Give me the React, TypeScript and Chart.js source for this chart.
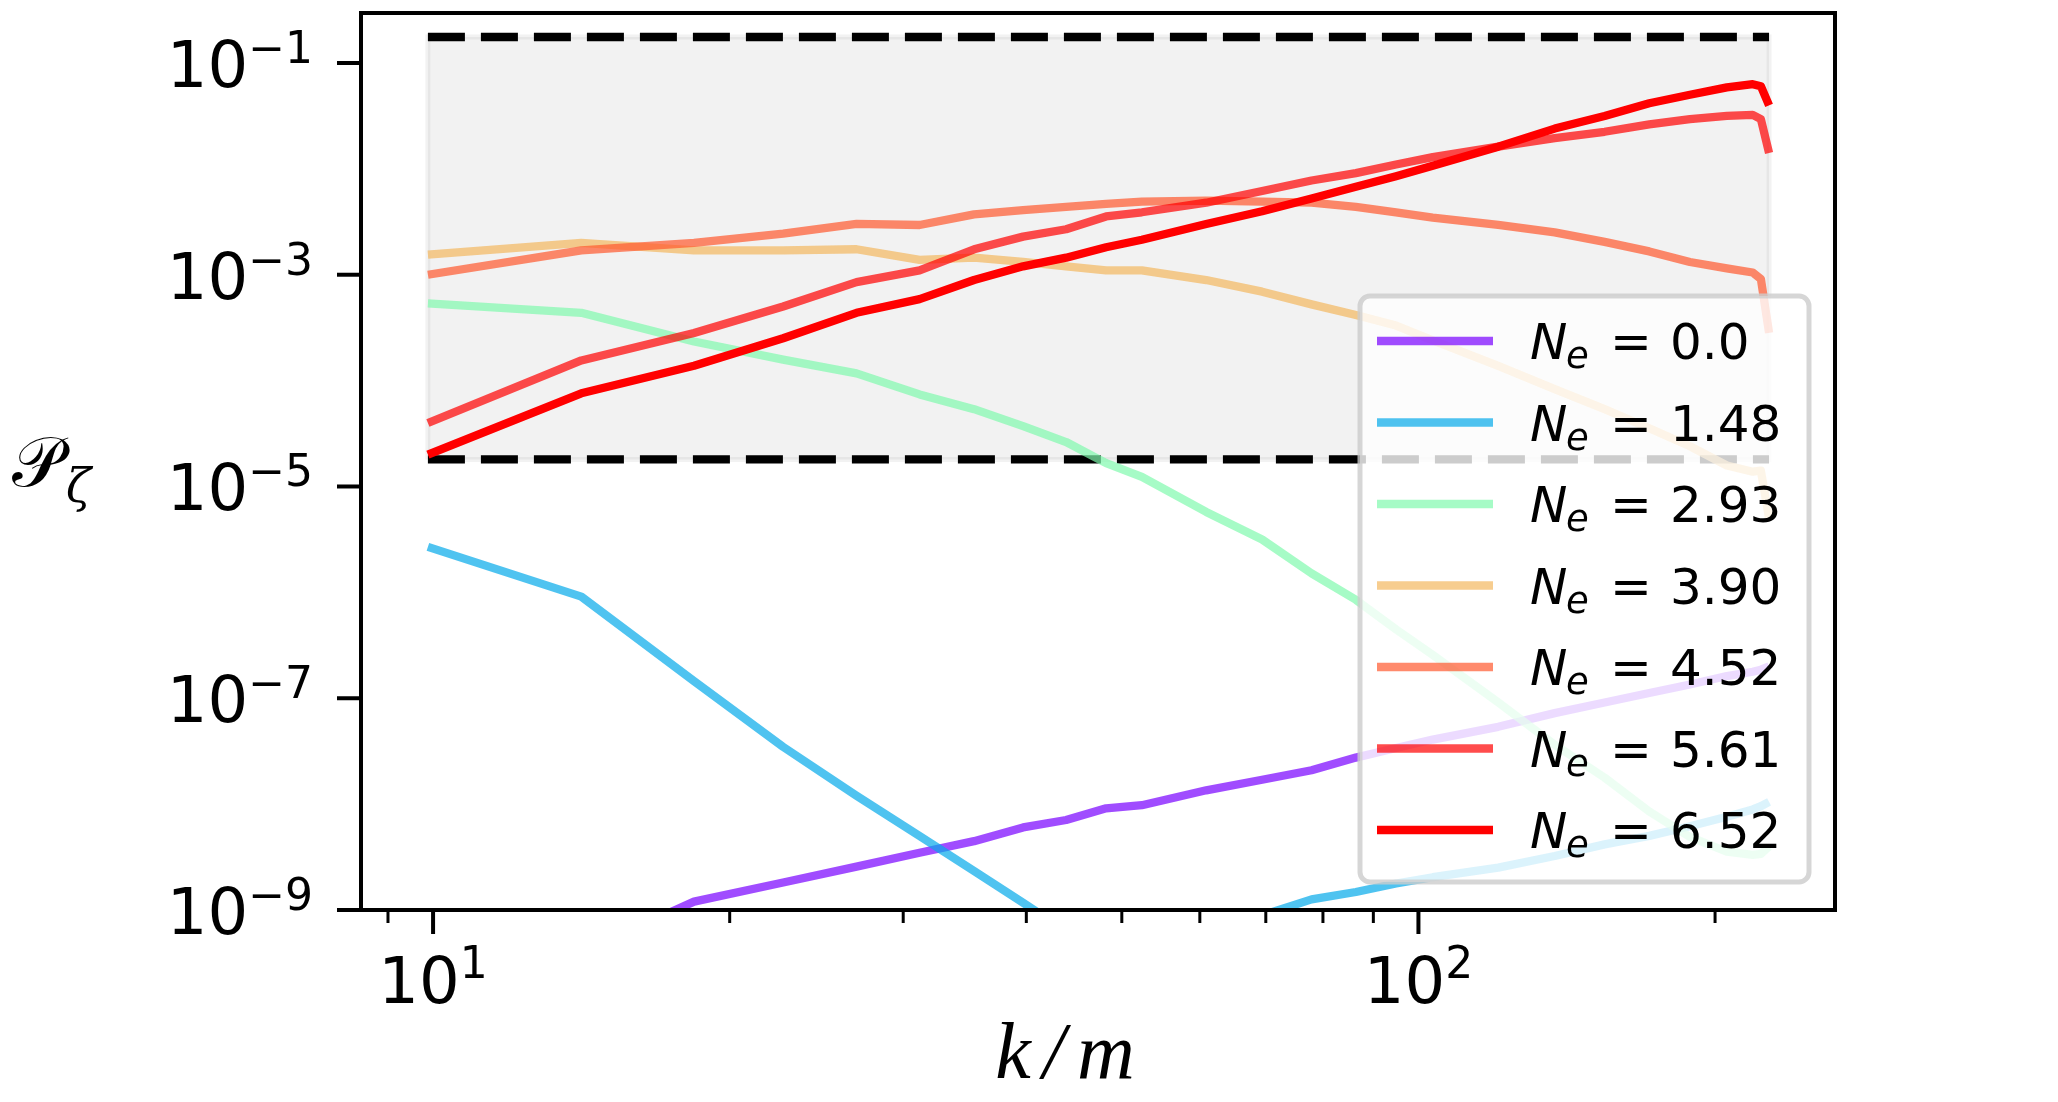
import { useEffect, useRef } from "react";
import { Chart, registerables } from "chart.js";

Chart.register(...registerables);

// k/m sample points (shared by all curves)
const kValues = [
  9.88, 14.14, 18.4, 22.66, 26.9, 31.17, 35.4, 39.7, 43.9, 48.2, 52.4, 60.9, 69.4,
  77.9, 86.4, 94.9, 103.4, 120.5, 137.5, 154.5, 171.5, 188.6, 205.6, 218.4, 222.6,
  226.9,
];

// P_zeta for each N_e
const pNe000 = [
  1.58e-10, 3.98e-10, 1.2e-9, 1.82e-9, 2.57e-9, 3.47e-9, 4.47e-9, 6.03e-9, 7.08e-9,
  9.12e-9, 9.77e-9, 1.35e-8, 1.7e-8, 2.09e-8, 2.75e-8, 3.39e-8, 4.07e-8, 5.37e-8,
  7.24e-8, 9.12e-8, 1.12e-7, 1.35e-7, 1.62e-7, 1.78e-7, 1.86e-7, 2.0e-7,
];
const pNe148 = [
  2.69e-6, 9.12e-7, 1.45e-7, 3.47e-8, 1.2e-8, 5.01e-9, 2.34e-9, 1.17e-9, 6.31e-10,
  3.98e-10, 3.16e-10, 3.98e-10, 8.91e-10, 1.26e-9, 1.48e-9, 1.78e-9, 2.04e-9, 2.51e-9,
  3.24e-9, 4.17e-9, 5.01e-9, 6.17e-9, 7.59e-9, 8.91e-9, 9.55e-9, 1.05e-8,
];
const pNe293 = [
  5.37e-4, 4.37e-4, 2.34e-4, 1.58e-4, 1.17e-4, 7.41e-5, 5.37e-5, 3.72e-5, 2.63e-5,
  1.66e-5, 1.23e-5, 5.75e-6, 3.16e-6, 1.51e-6, 8.51e-7, 4.47e-7, 2.57e-7, 9.12e-8,
  3.63e-8, 1.78e-8, 8.51e-9, 4.9e-9, 3.55e-9, 3.31e-9, 3.39e-9, 3.98e-9,
];
const pNe390 = [
  1.55e-3, 2.0e-3, 1.7e-3, 1.7e-3, 1.74e-3, 1.38e-3, 1.45e-3, 1.32e-3, 1.2e-3,
  1.1e-3, 1.1e-3, 8.91e-4, 6.92e-4, 5.25e-4, 4.17e-4, 3.31e-4, 2.4e-4, 1.38e-4,
  8.32e-5, 5.37e-5, 3.55e-5, 2.4e-5, 1.58e-5, 1.38e-5, 1.41e-5, 5.01e-6,
];
const pNe452 = [
  1.0e-3, 1.7e-3, 2.0e-3, 2.45e-3, 3.02e-3, 2.95e-3, 3.72e-3, 4.07e-3, 4.37e-3,
  4.68e-3, 4.9e-3, 5.01e-3, 4.9e-3, 4.79e-3, 4.37e-3, 3.89e-3, 3.47e-3, 2.95e-3,
  2.51e-3, 2.04e-3, 1.66e-3, 1.32e-3, 1.15e-3, 1.05e-3, 9.12e-4, 2.82e-4,
];
const pNe561 = [
  3.98e-5, 1.55e-4, 2.82e-4, 5.01e-4, 8.51e-4, 1.1e-3, 1.74e-3, 2.29e-3, 2.69e-3,
  3.55e-3, 3.89e-3, 4.79e-3, 6.17e-3, 7.76e-3, 9.12e-3, 1.1e-2, 1.29e-2, 1.62e-2,
  1.95e-2, 2.24e-2, 2.63e-2, 2.95e-2, 3.16e-2, 3.24e-2, 2.95e-2, 1.41e-2,
];
const pNe652 = [
  2.0e-5, 7.59e-5, 1.38e-4, 2.51e-4, 4.37e-4, 5.89e-4, 8.91e-4, 1.2e-3, 1.45e-3,
  1.82e-3, 2.14e-3, 3.02e-3, 3.98e-3, 5.25e-3, 6.76e-3, 8.51e-3, 1.07e-2, 1.62e-2,
  2.4e-2, 3.16e-2, 4.17e-2, 5.01e-2, 5.89e-2, 6.31e-2, 6.03e-2, 3.98e-2,
];

const neLabels = ["0.0", "1.48", "2.93", "3.90", "4.52", "5.61", "6.52"];
const series = [pNe000, pNe148, pNe293, pNe390, pNe452, pNe561, pNe652];
const lineColors = [
  "rgba(119,0,255,0.7)",
  "rgba(4,169,234,0.7)",
  "rgba(128,249,174,0.7)",
  "rgba(244,184,96,0.7)",
  "rgba(255,88,45,0.7)",
  "rgba(255,0,0,0.7)",
  "rgba(255,0,0,1)",
];

// shaded band with dashed bounds
const bandK = [9.88, 226.9];
const bandLow = 1.8e-5;
const bandHigh = 0.176;

// axes
const xMin = 8.45;
const xMax = 264.7;
const yMin = 1e-9;
const yMax = 0.2965;
const yTickValues = [1e-1, 1e-3, 1e-5, 1e-7, 1e-9];
const yTickExponents = ["\u22121", "\u22123", "\u22125", "\u22127", "\u22129"];
const xMajorTicks = [10, 100];
const xTickExponents = ["1", "2"];
const xMinorTicks = [9, 20, 30, 40, 50, 60, 70, 80, 90, 200];

const decor = {
  id: "decor",
  afterDatasetsDraw(chart: Chart) {
    const { ctx, chartArea: a } = chart;
    const lw = 449;
    const lh = 586;
    const lx = a.right - 26 - lw;
    const ly = a.bottom - 28 - lh;
    ctx.save();
    ctx.beginPath();
    ctx.roundRect(lx, ly, lw, lh, 10);
    ctx.fillStyle = "rgba(255,255,255,0.8)";
    ctx.fill();
    ctx.lineWidth = 5;
    ctx.strokeStyle = "rgba(204,204,204,0.8)";
    ctx.stroke();
    neLabels.forEach((lab, i) => {
      const y = ly + 45 + i * 81.5;
      ctx.beginPath();
      ctx.moveTo(lx + 17, y);
      ctx.lineTo(lx + 133, y);
      ctx.strokeStyle = lineColors[i];
      ctx.lineWidth = 8.3;
      ctx.lineCap = "butt";
      ctx.stroke();
      const tx = lx + 170;
      const base = y + 18;
      ctx.fillStyle = "#000";
      ctx.textAlign = "left";
      ctx.textBaseline = "alphabetic";
      ctx.font = "italic 50px 'DejaVu Sans'";
      ctx.fillText("N", tx, base);
      ctx.font = "italic 37px 'DejaVu Sans'";
      ctx.fillText("e", tx + 36, base + 9);
      ctx.font = "50px 'DejaVu Sans'";
      ctx.fillText("=", tx + 80, base);
      ctx.fillText(lab, tx + 140, base);
    });
    ctx.restore();
  },
  afterDraw(chart: Chart) {
    const { ctx, chartArea: a, scales } = chart;
    const xs = scales.x;
    const ys = scales.y;
    ctx.save();
    ctx.strokeStyle = "#000";
    ctx.fillStyle = "#000";
    ctx.lineWidth = 4;
    ctx.strokeRect(a.left, a.top, a.right - a.left, a.bottom - a.top);
    ctx.textAlign = "left";
    ctx.textBaseline = "alphabetic";

    yTickValues.forEach((v, i) => {
      const y = ys.getPixelForValue(v);
      ctx.lineWidth = 4;
      ctx.beginPath();
      ctx.moveTo(a.left - 24, y);
      ctx.lineTo(a.left, y);
      ctx.stroke();
      const exp = yTickExponents[i];
      ctx.font = "44px 'DejaVu Sans'";
      const we = ctx.measureText(exp).width;
      ctx.font = "64px 'DejaVu Sans'";
      const wb = ctx.measureText("10").width;
      const right = a.left - 48;
      ctx.fillText("10", right - we - wb, y + 24);
      ctx.font = "44px 'DejaVu Sans'";
      ctx.fillText(exp, right - we, y);
    });

    xMajorTicks.forEach((v, i) => {
      const x = xs.getPixelForValue(v);
      ctx.lineWidth = 4;
      ctx.beginPath();
      ctx.moveTo(x, a.bottom);
      ctx.lineTo(x, a.bottom + 24);
      ctx.stroke();
      const exp = xTickExponents[i];
      ctx.font = "44px 'DejaVu Sans'";
      const we = ctx.measureText(exp).width;
      ctx.font = "64px 'DejaVu Sans'";
      const wb = ctx.measureText("10").width;
      const start = x - (wb + we) / 2;
      ctx.fillText("10", start, a.bottom + 93);
      ctx.font = "44px 'DejaVu Sans'";
      ctx.fillText(exp, start + wb, a.bottom + 68);
    });

    xMinorTicks.forEach((v) => {
      if (v < xMin || v > xMax) return;
      const x = xs.getPixelForValue(v);
      ctx.lineWidth = 3;
      ctx.beginPath();
      ctx.moveTo(x, a.bottom);
      ctx.lineTo(x, a.bottom + 13);
      ctx.stroke();
    });

    // axis titles
    ctx.font = "italic 80px 'Liberation Serif'";
    (ctx as any).letterSpacing = "12px";
    ctx.textAlign = "center";
    ctx.fillText("k/m", (a.left + a.right) / 2 - 27, a.bottom + 168);
    (ctx as any).letterSpacing = "0px";
    ctx.textAlign = "left";
    ctx.font = "70px 'DejaVu Serif', 'DejaVu Sans'";
    ctx.fillText("\u{1D4AB}", 12, 486);
    ctx.font = "italic 46px 'DejaVu Serif'";
    ctx.fillText("\u03B6", 66, 502);
    ctx.restore();
  },
};

export default function App() {
  const canvasRef = useRef<HTMLCanvasElement | null>(null);
  const chartRef = useRef<Chart | null>(null);

  useEffect(() => {
    if (!canvasRef.current) return;
    if (chartRef.current) {
      chartRef.current.destroy();
      chartRef.current = null;
    }

    const curveSets = series.map((vals, i) => ({
      label: "N_e = " + neLabels[i],
      data: kValues.map((k, j) => ({ x: k, y: vals[j] })),
      borderColor: lineColors[i],
      borderWidth: 8.3,
      borderJoinStyle: "round" as const,
      borderCapStyle: "butt" as const,
      pointRadius: 0,
      fill: false,
      tension: 0,
      clip: 0,
      order: 10 - i,
    }));

    const bandSet = {
      label: "band",
      data: [
        { x: bandK[0], y: bandLow },
        { x: bandK[0], y: bandHigh },
        { x: bandK[1], y: bandHigh },
        { x: bandK[1], y: bandLow },
        { x: bandK[0], y: bandLow },
      ],
      borderColor: "rgba(128,128,128,0.1)",
      backgroundColor: "rgba(128,128,128,0.1)",
      borderWidth: 5,
      pointRadius: 0,
      fill: "shape",
      tension: 0,
      clip: 0,
      order: 30,
    };

    const dashSets = [bandHigh, bandLow].map((v, i) => ({
      label: "bound" + i,
      data: bandK.map((k) => ({ x: k, y: v })),
      borderColor: "#000",
      borderWidth: 8.3,
      borderDash: [37, 16],
      pointRadius: 0,
      fill: false,
      clip: 0,
      order: 20,
    }));

    chartRef.current = new Chart(canvasRef.current, {
      type: "line",
      data: { datasets: [...curveSets, ...dashSets, bandSet] as any },
      options: {
        animation: false,
        responsive: true,
        maintainAspectRatio: false,
        layout: { padding: { left: 361, top: 13, right: 223, bottom: 192 } },
        plugins: {
          legend: { display: false },
          tooltip: { enabled: false },
        },
        scales: {
          x: { type: "logarithmic", min: xMin, max: xMax, display: false },
          y: { type: "logarithmic", min: yMin, max: yMax, display: false },
        },
      },
      plugins: [decor],
    });

    return () => {
      if (chartRef.current) {
        chartRef.current.destroy();
        chartRef.current = null;
      }
    };
  }, []);

  return (
    <div
      style={{
        position: "fixed",
        left: 0,
        top: 0,
        width: 2058,
        height: 1102,
        background: "#fff",
      }}
    >
      <canvas ref={canvasRef} />
    </div>
  );
}
